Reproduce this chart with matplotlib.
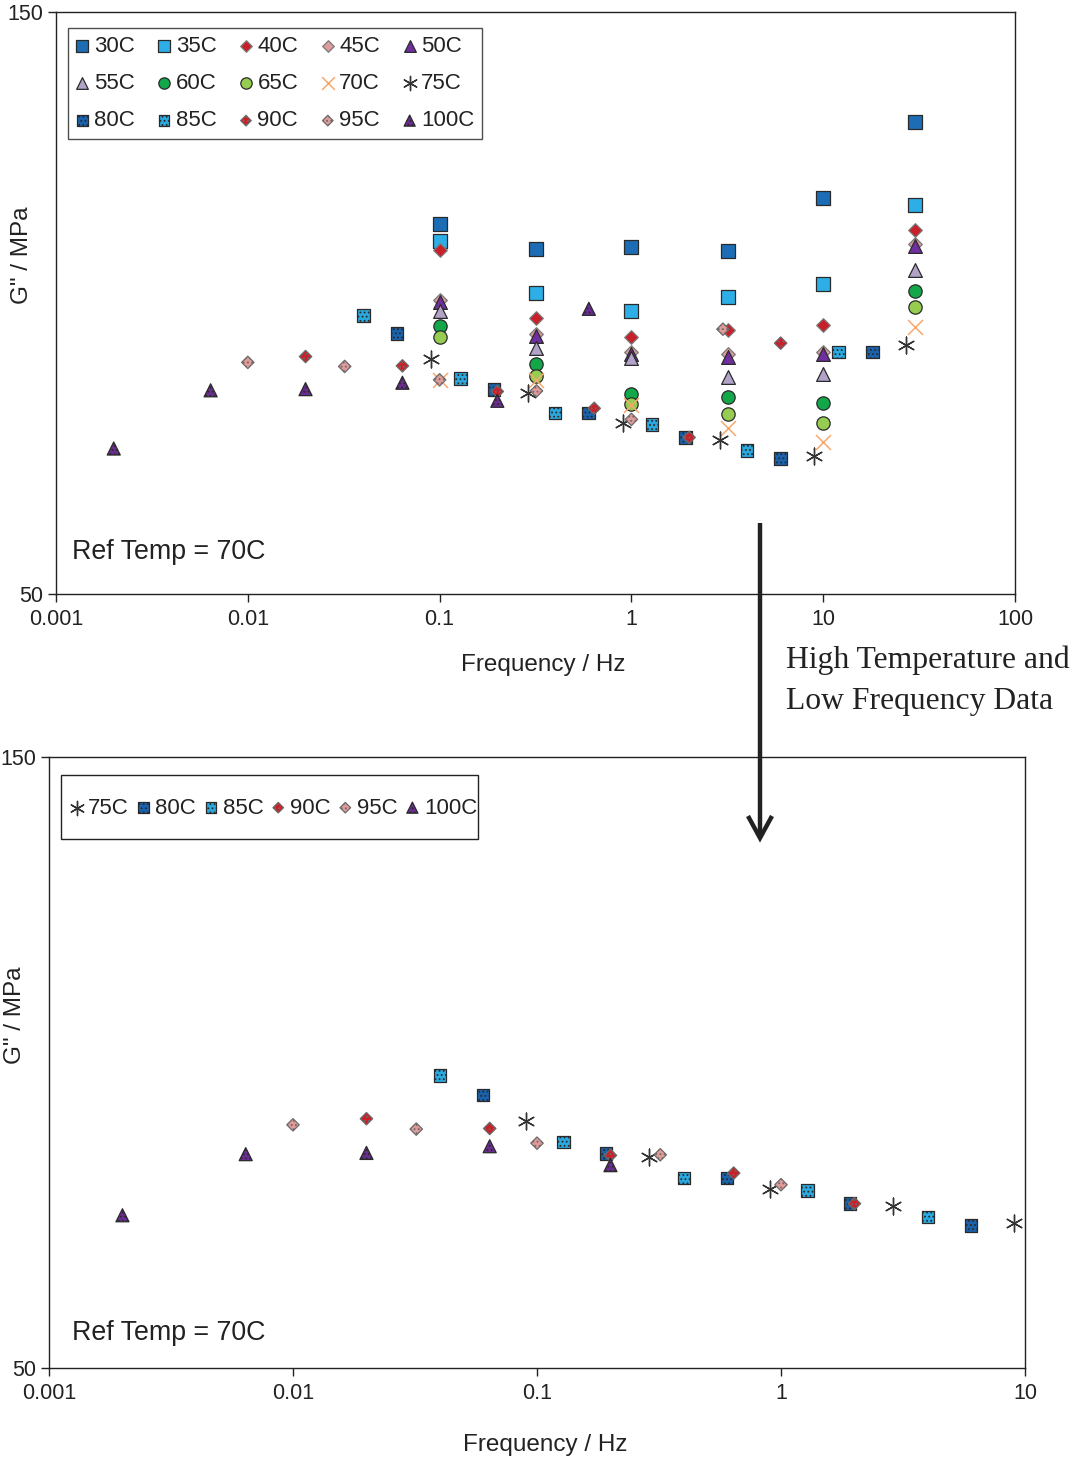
import matplotlib
matplotlib.use("Agg")
import matplotlib.pyplot as plt
from matplotlib.patches import Rectangle
from matplotlib.lines import Line2D

plt.rcParams['font.family'] = ['Liberation Sans', 'DejaVu Sans']

# Test frequencies (Hz) for the low-temperature sweeps
freq_base = [0.1, 0.32, 1, 3.2, 10, 30]

# Storage modulus G'' (MPa) for each temperature
g_30 = [113.6, 109.3, 109.6, 108.9, 118.0, 131.1]
g_35 = [110.7, 101.8, 98.6, 101.0, 103.2, 116.8]
g_40 = [109.1, 97.5, 94.2, 95.4, 96.2, 112.5]
g_45 = [100.6, 94.6, 91.5, 91.2, 91.5, 110.2]
g_50 = [100.2, 94.3, 91.2, 90.8, 91.2, 109.8]
g_55 = [98.6, 92.2, 90.5, 87.3, 87.8, 105.7]
g_60 = [96.1, 89.5, 84.3, 83.8, 82.9, 102.1]
g_65 = [94.1, 87.5, 82.6, 80.9, 79.3, 99.3]
g_70 = [86.8, 86.8, 82.5, 78.5, 76.2, 95.8]

# Shifted frequencies (Hz) for the high-temperature sweeps
f_75 = [0.09, 0.288, 0.9, 2.88, 9.0, 27.0]
f_80 = [0.06, 0.192, 0.6, 1.92, 6.0, 18.0]
f_85 = [0.04, 0.128, 0.4, 1.28, 4.0, 12.0]
f_90 = [0.02, 0.064, 0.2, 0.64, 2.0, 6.0]
f_95 = [0.01, 0.032, 0.1, 0.32, 1.0, 3.0]
f_100 = [0.002, 0.0064, 0.02, 0.064, 0.2, 0.6]

g_75 = [90.4, 84.5, 79.3, 76.5, 73.7, 92.8]
g_80 = [94.7, 85.1, 81.1, 76.9, 73.3, 91.6]
g_85 = [97.9, 87.0, 81.1, 79.1, 74.7, 91.6]
g_90 = [90.8, 89.2, 84.8, 81.9, 76.9, 93.1]
g_95 = [89.8, 89.1, 86.8, 84.9, 80.0, 95.5]
g_100 = [75.0, 85.0, 85.2, 86.3, 83.2, 99.0]

temps = ['30C', '35C', '40C', '45C', '50C', '55C', '60C', '65C', '70C',
         '75C', '80C', '85C', '90C', '95C', '100C']

x_ticks_top = [0.001, 0.01, 0.1, 1, 10, 100]
x_labels_top = ['0.001', '0.01', '0.1', '1', '10', '100']
x_ticks_bot = [0.001, 0.01, 0.1, 1, 10]
x_labels_bot = ['0.001', '0.01', '0.1', '1', '10']
y_ticks = [50, 150]

EDGE = '#2a2a2a'
TXT = '#222222'
styles = {
    '30C': dict(marker='s', s=92, fc='#1c6db5', ec=EDGE),
    '35C': dict(marker='s', s=92, fc='#2eaee6', ec=EDGE),
    '40C': dict(marker='D', s=48, fc='#c8202a', ec='#7a7a7a'),
    '45C': dict(marker='D', s=48, fc='#dc9c9c', ec='#7a7a7a'),
    '50C': dict(marker='^', s=98, fc='#6f2f9f', ec=EDGE),
    '55C': dict(marker='^', s=98, fc='#b2a3c9', ec=EDGE),
    '60C': dict(marker='o', s=92, fc='#12a84a', ec=EDGE),
    '65C': dict(marker='o', s=92, fc='#96cc50', ec=EDGE),
    '70C': dict(marker='x', s=115, fc='#f7a86e', ec=None, lw=1.1),
    '75C': dict(marker=(6, 2, 0), s=145, fc='#333333', ec=None, lw=1.0),
    '80C': dict(marker='s', s=84, fc='#1b62ad', ec=EDGE, hatch='....', hc='#7fbde8'),
    '85C': dict(marker='s', s=84, fc='#2aa9e0', ec=EDGE, hatch='....', hc='#1565a8'),
    '90C': dict(marker='D', s=40, fc='#cc1f28', ec='#6a6a6a', hatch='....', hc='#5a0a0a'),
    '95C': dict(marker='D', s=40, fc='#e19a9a', ec='#6a6a6a', hatch='....', hc='#8a4a4a'),
    '100C': dict(marker='^', s=88, fc='#6a2c91', ec=EDGE, hatch='....', hc='#b08ad0'),
}

series_top = {
    '30C': (freq_base, g_30), '35C': (freq_base, g_35), '40C': (freq_base, g_40),
    '45C': (freq_base, g_45), '50C': (freq_base, g_50), '55C': (freq_base, g_55),
    '60C': (freq_base, g_60), '65C': (freq_base, g_65), '70C': (freq_base, g_70),
    '75C': (f_75, g_75), '80C': (f_80, g_80), '85C': (f_85, g_85),
    '90C': (f_90, g_90), '95C': (f_95, g_95), '100C': (f_100, g_100),
}
# Bottom panel keeps the first five points of each high-temperature sweep
names2 = ['75C', '80C', '85C', '90C', '95C', '100C']
series_bot = {k: (series_top[k][0][:5], series_top[k][1][:5]) for k in names2}


def draw(ax, name, xs, ys):
    st = styles[name]
    if st['ec'] is None:
        return ax.scatter(xs, ys, marker=st['marker'], s=st['s'], c=st['fc'],
                          linewidths=st.get('lw', 1.0), label=name, zorder=3)
    if 'hatch' in st:
        plt.rcParams['hatch.color'] = st['hc']
        plt.rcParams['hatch.linewidth'] = 0.8
    return ax.scatter(xs, ys, marker=st['marker'], s=st['s'], facecolors=st['fc'],
                      edgecolors=st['ec'], linewidths=0.9, label=name, zorder=3,
                      hatch=st.get('hatch', None))


def style_axes(ax, xticks, xlabels, xmax):
    ax.set_xscale('log')
    ax.set_xlim(0.001, xmax)
    ax.set_ylim(50, 150)
    ax.set_xticks(xticks)
    ax.set_xticklabels(xlabels)
    ax.xaxis.set_minor_locator(matplotlib.ticker.NullLocator())
    ax.set_yticks(y_ticks)
    ax.tick_params(axis='both', which='major', direction='out', length=6,
                   width=1.0, labelsize=15.5, colors=TXT, labelcolor=TXT)
    ax.tick_params(axis='x', pad=5)
    ax.tick_params(axis='y', pad=3)
    for sp in ax.spines.values():
        sp.set_linewidth(1.0)
        sp.set_color(TXT)


fig = plt.figure(figsize=(10.8, 14.6), dpi=100)

# ---- top panel ----
ax1 = fig.add_axes([56 / 1080, 1 - 594 / 1460, 959 / 1080, 582 / 1460])
handles = {}
for name in temps:
    xs, ys = series_top[name]
    handles[name] = draw(ax1, name, xs, ys)
style_axes(ax1, x_ticks_top, x_labels_top, 100)

order = ['30C', '55C', '80C', '35C', '60C', '85C', '40C', '65C', '90C',
         '45C', '70C', '95C', '50C', '75C', '100C']
leg1 = ax1.legend([handles[k] for k in order], order, ncol=5, loc='upper left',
                  bbox_to_anchor=(12 / 959, 566 / 582), borderaxespad=0,
                  fontsize=16, frameon=True, fancybox=False,
                  edgecolor=TXT, handlelength=0.6, handletextpad=0.22,
                  columnspacing=1.03, labelspacing=0.74, borderpad=0.34,
                  scatterpoints=1, markerscale=0.85)
leg1.get_frame().set_linewidth(1.0)
for t in leg1.get_texts():
    t.set_color(TXT)

fig.text(72 / 1080, 1 - 552 / 1460, 'Ref Temp = 70C', fontsize=19.3,
         va='center', ha='left', color=TXT)
fig.text(543 / 1080, 1 - 665 / 1460, 'Frequency / Hz', fontsize=17.5,
         va='center', ha='center', color=TXT)
fig.text(22 / 1080, 1 - 255 / 1460, 'G" / MPa', fontsize=17.5, rotation=90,
         va='center', ha='center', color=TXT)

# ---- bottom panel ----
ax2 = fig.add_axes([49 / 1080, 1 - 1368 / 1460, 976 / 1080, 611 / 1460])
handles2 = []
for name in names2:
    xs, ys = series_bot[name]
    handles2.append(draw(ax2, name, xs, ys))
style_axes(ax2, x_ticks_bot, x_labels_bot, 10)
leg2 = ax2.legend(handles2, names2, ncol=6, loc='center left',
                  bbox_to_anchor=(21 / 976, (1368 - 808) / 611), borderaxespad=0,
                  fontsize=16, frameon=False, handlelength=0.6,
                  handletextpad=0.22, columnspacing=0.37, borderpad=0.0,
                  scatterpoints=1, markerscale=0.85)
for t in leg2.get_texts():
    t.set_color(TXT)
fig.add_artist(Rectangle((61 / 1080, 1 - 839 / 1460), 417 / 1080, 64 / 1460,
                         transform=fig.transFigure, fill=False,
                         edgecolor=TXT, linewidth=1.0))

fig.text(72 / 1080, 1 - 1333 / 1460, 'Ref Temp = 70C', fontsize=19.3,
         va='center', ha='left', color=TXT)
fig.text(545 / 1080, 1 - 1445 / 1460, 'Frequency / Hz', fontsize=17.5,
         va='center', ha='center', color=TXT)
fig.text(15 / 1080, 1 - 1015 / 1460, 'G" / MPa', fontsize=17.5, rotation=90,
         va='center', ha='center', color=TXT)

# ---- connecting arrow and note ----
fig.add_artist(Line2D([760 / 1080, 760 / 1080], [1 - 523 / 1460, 1 - 838 / 1460],
                      transform=fig.transFigure, color=TXT, lw=3.2,
                      solid_capstyle='butt'))
fig.add_artist(Line2D(
    [748 / 1080, 760 / 1080, 772 / 1080],
    [1 - 816 / 1460, 1 - 838 / 1460, 1 - 816 / 1460],
    transform=fig.transFigure, color=TXT, lw=3.2,
    solid_capstyle='butt', solid_joinstyle='miter'))
serif = ['Liberation Serif', 'DejaVu Serif']
fig.text(786 / 1080, 1 - 660 / 1460, 'High Temperature and', fontsize=22.8,
         family=serif, va='center', ha='left', color=TXT)
fig.text(786 / 1080, 1 - 702 / 1460, 'Low Frequency Data', fontsize=22.8,
         family=serif, va='center', ha='left', color=TXT)

fig.savefig('out.png', dpi=100)
